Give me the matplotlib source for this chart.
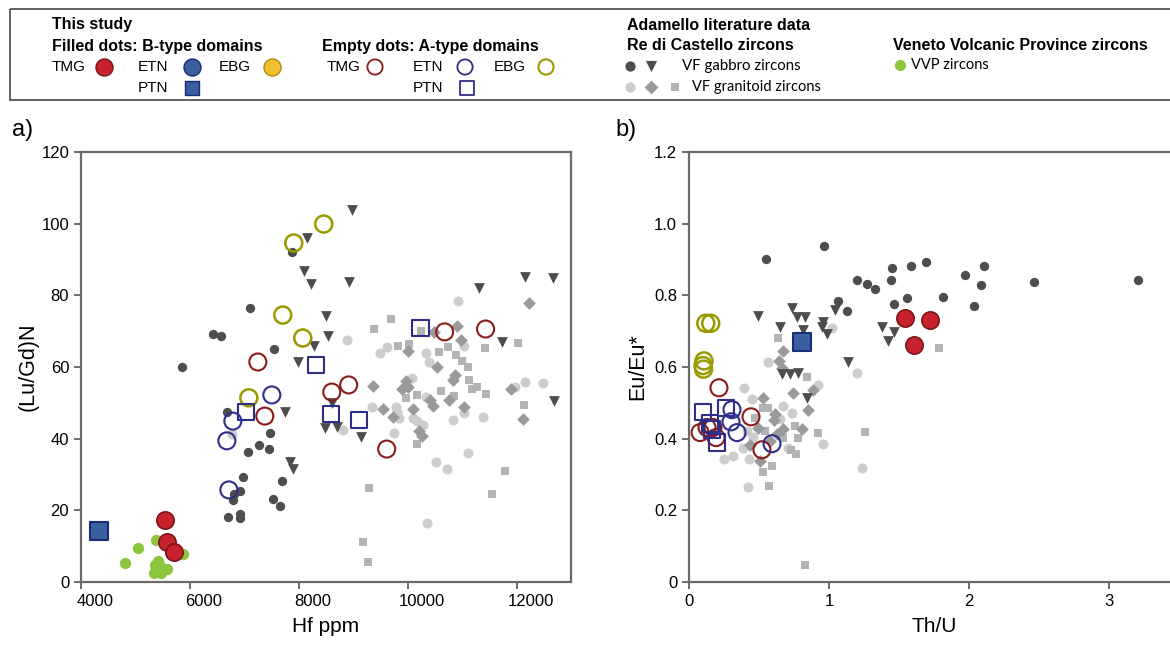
import matplotlib
matplotlib.use("Agg")
import matplotlib.pyplot as plt
from matplotlib.patches import Rectangle
from matplotlib.transforms import ScaledTranslation

plt.rcParams['font.family'] = ['Liberation Sans', 'DejaVu Sans']

# ---- panel a: Hf ppm vs (Lu/Gd)N ----
a_gab_dot_x = [5853, 7872, 7101, 6422, 6569, 7541, 6679, 7468, 7266, 7450, 7064,
               6972, 7688, 6807, 6917, 6789, 7523, 7651, 6697, 6917, 6917]
a_gab_dot_y = [60, 92.1, 76.5, 69.2, 68.7, 65.0, 47.4, 41.6, 38.2, 37.1, 36.3,
               29.3, 28.2, 24.6, 25.4, 22.9, 23.2, 21.2, 18.1, 19.0, 17.9]

a_gab_tri_x = [8147, 8092, 8220, 8495, 8532, 8275, 7982, 8972, 8917, 11303, 12147,
               12661, 11725, 12679, 8606, 8477, 8697, 9138, 7743, 7835, 7890]
a_gab_tri_y = [96, 86.8, 83.2, 74.2, 68.7, 65.9, 61.4, 103.8, 83.7, 82, 85.1,
               84.8, 67, 50.5, 50, 43, 43.3, 40.5, 47.4, 33.5, 31.5]

a_gra_dot_x = [8881, 10917, 11028, 9486, 9615, 10330, 10385, 10073, 10330, 11963,
               12147, 12477, 11376, 10826, 9339, 9780, 9835, 9798, 10092, 10165,
               10275, 9743, 8807, 10514, 10716, 11101, 10349, 11028, 6771]
a_gra_dot_y = [67.5, 78.4, 65.9, 63.9, 65.6, 63.9, 61.4, 56.9, 51.6, 54.4,
               55.8, 55.5, 46.1, 45.2, 48.8, 48.8, 45.8, 47.4, 45.8, 44.9,
               43.8, 41.6, 42.4, 33.5, 31.5, 36, 16.5, 47.2, 41.3]

a_gra_dia_x = [12220, 10477, 10899, 10972, 10000, 10532, 9358, 9963, 10000, 9890,
               10404, 10826, 10862, 10752, 10459, 11028, 11890, 12110, 9541, 9725,
               10092, 10202, 10257]
a_gra_dia_y = [77.9, 69.8, 71.4, 67.5, 64.5, 60, 54.7, 56.1, 54.4, 53.9,
               50.8, 56.4, 57.8, 50.8, 49.1, 48.8, 53.9, 45.5, 48.3, 46.1,
               48.3, 42.1, 40.7]

a_gra_sq_x = [9688, 9376, 10239, 12018, 11413, 9817, 10018, 10569, 10734, 10881,
              10991, 11101, 10165, 9963, 10606, 10844, 11119, 11174, 11266, 11431,
              12128, 10165, 11780, 11541, 9284, 9174, 9266]
a_gra_sq_y = [73.4, 70.6, 70, 66.7, 65.3, 66, 66.4, 64.2, 65.6, 63.4,
              61.7, 60, 52.2, 51.4, 53.3, 51.9, 56.4, 53.9, 54.4, 52.5,
              49.4, 38.5, 31, 24.6, 26.2, 11.2, 5.6]

a_vvp_x = [5376, 5046, 4807, 5872, 5413, 5358, 5450, 5578, 5339, 5468, 5400]
a_vvp_y = [11.7, 9.5, 5.3, 7.8, 5.9, 4.7, 4.5, 3.6, 2.5, 2.5, 3.2]

a_tmg_b_x = [5541, 5578, 5706]
a_tmg_b_y = [17.3, 11.2, 8.4]
a_ptn_b_x = [4330]
a_ptn_b_y = [14.2]

a_tmg_a_x = [7248, 8917, 8606, 7376, 10679, 11431, 9615]
a_tmg_a_y = [61.4, 55, 53, 46.3, 69.8, 70.6, 37.1]
a_etn_a_x = [7505, 6789, 6679, 6716]
a_etn_a_y = [52.2, 44.9, 39.4, 25.7]
a_ebg_a_x = [8459, 7908, 7706, 8073, 7083]
a_ebg_a_y = [99.9, 94.6, 74.5, 68.1, 51.4]
a_ptn_a_x = [8312, 10239, 7028, 8587, 9101]
a_ptn_a_y = [60.5, 70.9, 47.4, 46.9, 45.2]

# ---- panel b: Th/U vs Eu/Eu* ----
b_gab_dot_x = [0.55, 0.966, 1.45, 1.586, 1.693, 2.107, 1.971, 2.086, 2.464, 3.207,
               1.2, 1.271, 1.329, 1.443, 1.814, 1.557, 1.464, 2.036, 1.064, 1.129]
b_gab_dot_y = [0.90, 0.939, 0.875, 0.883, 0.892, 0.883, 0.858, 0.828, 0.836, 0.842,
               0.842, 0.833, 0.817, 0.844, 0.794, 0.792, 0.775, 0.769, 0.783, 0.756]

b_gab_tri_x = [0.493, 0.736, 0.771, 0.829, 0.65, 0.814, 0.957, 0.95, 0.986, 1.043,
               1.379, 1.464, 1.421, 1.136, 0.664, 0.721, 0.779, 0.843]
b_gab_tri_y = [0.742, 0.764, 0.739, 0.739, 0.711, 0.703, 0.725, 0.711, 0.692, 0.758,
               0.711, 0.697, 0.672, 0.614, 0.581, 0.581, 0.583, 0.514]

b_gra_dot_x = [1.021, 1.2, 0.564, 0.393, 0.45, 0.671, 0.736, 0.921, 0.957, 1.236,
               0.25, 0.314, 0.429, 0.421, 0.386, 0.457, 0.707, 0.65, 0.414]
b_gra_dot_y = [0.708, 0.583, 0.614, 0.542, 0.511, 0.492, 0.472, 0.55, 0.386, 0.317,
               0.344, 0.353, 0.342, 0.264, 0.375, 0.406, 0.375, 0.456, 0.422]

b_gra_dia_x = [0.671, 0.643, 0.664, 0.743, 0.886, 0.85, 0.529, 0.614, 0.607, 0.671,
               0.807, 0.493, 0.436, 0.507, 0.579, 0.629]
b_gra_dia_y = [0.644, 0.617, 0.597, 0.528, 0.536, 0.481, 0.514, 0.469, 0.453, 0.428,
               0.428, 0.431, 0.381, 0.339, 0.394, 0.414]

b_gra_sq_x = [0.636, 0.843, 1.257, 0.921, 0.529, 0.571, 1.786, 0.764, 0.729, 0.593,
              0.529, 0.564, 0.471, 0.779, 0.757, 0.671, 0.543, 0.829]
b_gra_sq_y = [0.681, 0.572, 0.419, 0.417, 0.306, 0.269, 0.653, 0.356, 0.369, 0.325,
              0.486, 0.486, 0.458, 0.403, 0.436, 0.403, 0.422, 0.047]

b_tmg_b_x = [1.543, 1.721, 1.607]
b_tmg_b_y = [0.736, 0.731, 0.661]
b_ptn_b_x = [0.807]
b_ptn_b_y = [0.669]

b_tmg_a_x = [0.214, 0.443, 0.521, 0.079, 0.129, 0.171, 0.193]
b_tmg_a_y = [0.542, 0.461, 0.369, 0.417, 0.431, 0.431, 0.403]
b_etn_a_x = [0.307, 0.30, 0.343, 0.593]
b_etn_a_y = [0.481, 0.447, 0.417, 0.386]
b_ebg_a_x = [0.12, 0.155, 0.107, 0.10, 0.104]
b_ebg_a_y = [0.722, 0.722, 0.617, 0.604, 0.594]
b_ptn_a_x = [0.10, 0.264, 0.15, 0.164, 0.20]
b_ptn_a_y = [0.475, 0.486, 0.442, 0.425, 0.389]

# colours
DARK = '#4d4d4d'
LIGHT = '#cdcdcd'
MID = '#9a9a9a'
SQ = '#b3b3b3'
GREEN = '#8cc63f'
RED = '#c8232c'
RED_EDGE = '#7a1518'
RED_OPEN = '#8b1a1a'
BLUE = '#3a5f9f'
BLUE_EDGE = '#1c2a7a'
BLUE_OPEN = '#2e2e8a'
OLIVE = '#9a9a00'
YELLOW = '#f0c030'


def draw_panel(ax, d):
    ax.scatter(d['gra_dot'][0], d['gra_dot'][1], s=52, c=LIGHT, marker='o', lw=0)
    ax.scatter(d['gra_sq'][0], d['gra_sq'][1], s=38, c=SQ, marker='s', lw=0)
    ax.scatter(d['gra_dia'][0], d['gra_dia'][1], s=42, c=MID, marker='D', lw=0)
    ax.scatter(d['gab_dot'][0], d['gab_dot'][1], s=45, c=DARK, marker='o', lw=0)
    ax.scatter(d['gab_tri'][0], d['gab_tri'][1], s=60, c=DARK, marker='v', lw=0)
    if 'vvp' in d:
        ax.scatter(d['vvp'][0], d['vvp'][1], s=66, c=GREEN, marker='o', lw=0)
    ax.scatter(d['tmg_a'][0], d['tmg_a'][1], s=150, facecolors='none',
               edgecolors=RED_OPEN, lw=1.5)
    ax.scatter(d['etn_a'][0], d['etn_a'][1], s=150, facecolors='none',
               edgecolors=BLUE_OPEN, lw=1.5)
    ax.scatter(d['ebg_a'][0], d['ebg_a'][1], s=150, facecolors='none',
               edgecolors=OLIVE, lw=1.8)
    ax.scatter(d['ptn_a'][0], d['ptn_a'][1], s=140, marker='s', facecolors='none',
               edgecolors=BLUE_OPEN, lw=1.5)
    ax.scatter(d['tmg_b'][0], d['tmg_b'][1], s=155, c=RED, edgecolors=RED_EDGE, lw=1.2)
    ax.scatter(d['ptn_b'][0], d['ptn_b'][1], s=175, marker='s', c=BLUE,
               edgecolors=BLUE_EDGE, lw=1.5)

    for sp in ax.spines.values():
        sp.set_color('#6a6a6a')
        sp.set_linewidth(1.6)
    ax.tick_params(labelsize=12, length=5, width=1.2, color='#555555')


fig = plt.figure(figsize=(11.7, 6.48), dpi=100)

ax_a = fig.add_axes([81 / 1170, 66 / 648, 490 / 1170, 430 / 648])
draw_panel(ax_a, {
    'gab_dot': (a_gab_dot_x, a_gab_dot_y), 'gab_tri': (a_gab_tri_x, a_gab_tri_y),
    'gra_dot': (a_gra_dot_x, a_gra_dot_y), 'gra_dia': (a_gra_dia_x, a_gra_dia_y),
    'gra_sq': (a_gra_sq_x, a_gra_sq_y), 'vvp': (a_vvp_x, a_vvp_y),
    'tmg_b': (a_tmg_b_x, a_tmg_b_y), 'ptn_b': (a_ptn_b_x, a_ptn_b_y),
    'tmg_a': (a_tmg_a_x, a_tmg_a_y), 'etn_a': (a_etn_a_x, a_etn_a_y),
    'ebg_a': (a_ebg_a_x, a_ebg_a_y), 'ptn_a': (a_ptn_a_x, a_ptn_a_y)})
ax_a.set_xlim(4000, 13000)
ax_a.set_ylim(0, 120)
ax_a.set_xticks([4000, 6000, 8000, 10000, 12000])
ax_a.set_yticks(range(0, 121, 20))
ax_a.set_xlabel('Hf ppm', fontsize=15, labelpad=6)
ax_a.set_ylabel('(Lu/Gd)N', fontsize=15.5, labelpad=2)
# the x tick labels in the original sit a bit right of their ticks
shift = ScaledTranslation(0.14, 0, fig.dpi_scale_trans)
for lab in ax_a.get_xticklabels():
    lab.set_transform(lab.get_transform() + shift)

ax_b = fig.add_axes([689 / 1170, 66 / 648, 490 / 1170, 430 / 648])
draw_panel(ax_b, {
    'gab_dot': (b_gab_dot_x, b_gab_dot_y), 'gab_tri': (b_gab_tri_x, b_gab_tri_y),
    'gra_dot': (b_gra_dot_x, b_gra_dot_y), 'gra_dia': (b_gra_dia_x, b_gra_dia_y),
    'gra_sq': (b_gra_sq_x, b_gra_sq_y),
    'tmg_b': (b_tmg_b_x, b_tmg_b_y), 'ptn_b': (b_ptn_b_x, b_ptn_b_y),
    'tmg_a': (b_tmg_a_x, b_tmg_a_y), 'etn_a': (b_etn_a_x, b_etn_a_y),
    'ebg_a': (b_ebg_a_x, b_ebg_a_y), 'ptn_a': (b_ptn_a_x, b_ptn_a_y)})
ax_b.set_xlim(0, 3.5)
ax_b.set_ylim(0, 1.2)
ax_b.set_xticks([0, 1, 2, 3])
ax_b.set_yticks([0, 0.2, 0.4, 0.6, 0.8, 1.0, 1.2])
ax_b.set_yticklabels(['0', '0.2', '0.4', '0.6', '0.8', '1.0', '1.2'])
ax_b.set_xlabel('Th/U', fontsize=15, labelpad=6)
ax_b.set_ylabel('Eu/Eu*', fontsize=15.5, labelpad=4)

fig.text(12 / 1170, 1 - 130 / 648, 'a)', fontsize=17, va='center')
fig.text(615 / 1170, 1 - 130 / 648, 'b)', fontsize=17, va='center')

# ---- legend box drawn in pixel coordinates ----
lg = fig.add_axes([0, 0, 1, 1], zorder=-1)
lg.set_xlim(0, 1170)
lg.set_ylim(648, 0)
lg.axis('off')
lg.add_patch(Rectangle((10, 9), 1170, 91, fill=False, ec='#555555', lw=1.3))

bold = dict(fontsize=11.5, fontweight='bold', va='center')
item = dict(fontsize=11, va='center')
lg.text(52, 25, 'This study', **bold)
lg.text(52, 46, 'Filled dots: B-type domains', **bold)
lg.text(322, 46, 'Empty dots: A-type domains', **bold)
lg.text(627, 25, 'Adamello literature data', **bold)
lg.text(627, 46, 'Re di Castello zircons', **bold)
lg.text(893, 46, 'Veneto Volcanic Province zircons', **bold)

lg.text(52, 67, 'TMG', **item)
lg.scatter([104], [67], s=150, c=RED, edgecolors=RED_EDGE, lw=1)
lg.text(138, 67, 'ETN', **item)
lg.scatter([192], [67], s=150, c=BLUE, edgecolors=BLUE_EDGE, lw=1)
lg.text(219, 67, 'EBG', **item)
lg.scatter([272], [67], s=150, c=YELLOW, edgecolors='#b08a10', lw=1)
lg.text(138, 88, 'PTN', **item)
lg.scatter([192], [88], s=100, marker='s', c=BLUE, edgecolors=BLUE_EDGE, lw=1)

lg.text(327, 67, 'TMG', **item)
lg.scatter([375], [67], s=120, facecolors='none', edgecolors=RED_OPEN, lw=1.3)
lg.text(413, 67, 'ETN', **item)
lg.scatter([465], [67], s=120, facecolors='none', edgecolors=BLUE_OPEN, lw=1.3)
lg.text(494, 67, 'EBG', **item)
lg.scatter([546], [67], s=120, facecolors='none', edgecolors=OLIVE, lw=1.5)
lg.text(413, 88, 'PTN', **item)
lg.scatter([467], [88], s=100, marker='s', facecolors='none', edgecolors=BLUE_OPEN, lw=1.3)

lg.scatter([630], [66], s=55, c=DARK, lw=0)
lg.scatter([651], [66], s=65, c=DARK, marker='v', lw=0)
lg.text(682, 66, 'VF gabbro zircons', fontsize=10.8, va='center', family=['Lato', 'DejaVu Sans'])
lg.scatter([630], [87], s=55, c=LIGHT, lw=0)
lg.scatter([651], [87], s=50, c=MID, marker='D', lw=0)
lg.scatter([675], [87], s=40, c=SQ, marker='s', lw=0)
lg.text(692, 87, 'VF granitoid zircons', fontsize=10.5, va='center', family=['Lato', 'DejaVu Sans'])
lg.scatter([900], [65], s=65, c=GREEN, lw=0)
lg.text(911, 65, 'VVP zircons', fontsize=10.5, va='center', family=['Lato', 'DejaVu Sans'])

fig.savefig('out.png', dpi=100)
